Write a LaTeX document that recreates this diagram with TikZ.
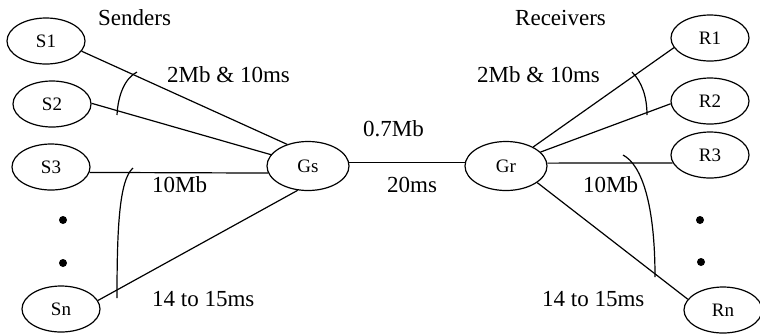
\documentclass[tikz,border=0pt]{standalone}
\usepackage{fontspec}
\setmainfont{Liberation Serif}
\usetikzlibrary{shapes.geometric}
\begin{document}
\begin{tikzpicture}[x=1pt,y=-1pt,
  host/.style={draw,ellipse,line width=1.2pt,inner sep=0pt,minimum width=78pt,minimum height=46pt,font=\fontsize{19}{19}\selectfont},
  gate/.style={host,minimum width=82pt,minimum height=49pt},
  link/.style={line width=1.2pt},
  lbl/.style={anchor=base west,inner sep=0pt,font=\fontsize{23}{23}\selectfont},
  dotm/.style={fill=black,circle,inner sep=0pt,minimum size=8pt}]
\useasboundingbox (0,0) rectangle (760,333);
% nodes
\node[host] (S1) at (46,41) {S1};
\node[host] (S2) at (52,104) {S2};
\node[host] (S3) at (51,167) {S3};
\node[host] (Sn) at (61,309) {Sn};
\node[gate] (Gs) at (308,166) {Gs};
\node[gate] (Gr) at (506,166) {Gr};
\node[host] (R1) at (710,38) {R1};
\node[host] (R2) at (710,101) {R2};
\node[host] (R3) at (710,155) {R3};
\node[host] (Rn) at (723,310) {Rn};
% dots
\node[dotm] (d1) at (63,220) {};
\node[dotm] (d2) at (63,263) {};
\node[dotm] (d3) at (700,220) {};
\node[dotm] (d4) at (701,262) {};
% links
\draw[link] (S1.-16) -- (Gs.134);
\draw[link] (S2.1) -- (Gs.163);
\draw[link] (S3.-8) -- (Gs.190);
\draw[link] (Sn.13) -- (Gs.247);
\draw[link] (Gs.5) -- (Gr.175);
\draw[link] (Gr.35) -- (R1.195);
\draw[link] (Gr.22) -- (R2.184);
\draw[link] (Gr.4) -- (R3.192);
\draw[link] (Gr.-28) -- (Rn.163);
% arcs
\draw[link] (117,115) .. controls (118,95) and (125,78) .. (137,72);
\draw[link] (117,298) .. controls (117,230) and (119,180) .. (133,168);
\draw[link] (632,72) .. controls (642,82) and (647,97) .. (647,115);
\draw[link] (623,155) .. controls (642,165) and (655,205) .. (655,277);
% labels
\node[lbl] (tSend) at (98,25) {Senders};
\node[lbl] (tRecv) at (515,25) {Receivers};
\node[lbl] (tL1) at (167,82) {2Mb \& 10ms};
\node[lbl] (tR1) at (477,82) {2Mb \& 10ms};
\node[lbl] (tBw) at (363,136) {0.7Mb};
\node[lbl] (tDl) at (387,192) {20ms};
\node[lbl] (tL2) at (152,192) {10Mb};
\node[lbl] (tR2) at (583,192) {10Mb};
\node[lbl] (tL3) at (152,306) {14 to 15ms};
\node[lbl] (tR3) at (542,306) {14 to 15ms};
\end{tikzpicture}
\end{document}
